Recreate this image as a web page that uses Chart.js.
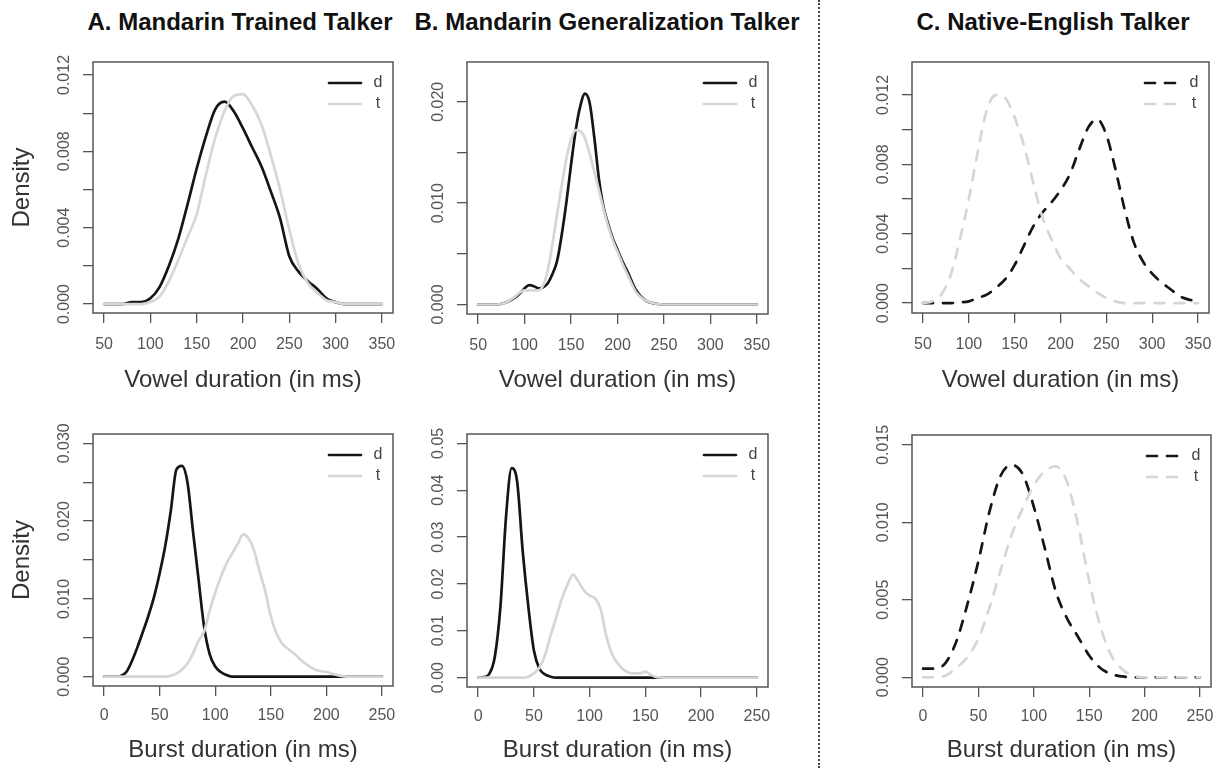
<!DOCTYPE html>
<html><head><meta charset="utf-8">
<script src="https://cdn.jsdelivr.net/npm/chart.js@4.4.0/dist/chart.umd.min.js"></script>
<style>
html,body{margin:0;padding:0;background:#fff;overflow:hidden;width:1227px;height:768px;position:relative;}
.title{position:absolute;top:8px;line-height:28px;font:bold 24px "Liberation Sans",Arial,sans-serif;color:#111;white-space:nowrap;transform:translateX(-50%);}
canvas{position:absolute;}
#sep{position:absolute;left:818px;top:0;height:768px;border-left:2px dotted #444;}
</style></head><body>
<div class="title" style="left:240px">A. Mandarin Trained Talker</div>
<div class="title" style="left:607px">B. Mandarin Generalization Talker</div>
<div class="title" style="left:1053px">C. Native-English Talker</div>
<div id="sep"></div>
<script>
// ---------- data ----------
const seriesLabels = ['d', 't'];
const vowelTicks = [50, 100, 150, 200, 250, 300, 350];
const burstTicks = [0, 50, 100, 150, 200, 250];

// A. Vowel
const xsVowelA = [50,60,70,80,90,100,110,120,130,140,150,160,170,180,190,200,210,220,230,240,250,260,270,280,290,300,310,320,330,340,350];
const dVowelA = [0,0,0,0.0001,0.0001,0.0003,0.0009,0.002,0.0034,0.0052,0.0071,0.0088,0.0102,0.0106,0.0101,0.0092,0.0082,0.0072,0.0059,0.0045,0.0025,0.0017,0.0012,0.0008,0.0003,0.0001,0,0,0,0,0];
const tVowelA = [0,0,0,0,0,0.0001,0.0004,0.0012,0.0023,0.0035,0.0047,0.0068,0.0087,0.0101,0.0109,0.011,0.0104,0.0094,0.0078,0.006,0.0039,0.0021,0.0011,0.0006,0.0002,0.0001,0,0,0,0,0];
const yTicksVowelA = [0,0.002,0.004,0.006,0.008,0.010,0.012];
const yLabelsVowelA = ['0.000','','0.004','','0.008','','0.012'];

// B. Vowel
const xsVowelB = [50,60,70,80,90,95,100,105,110,115,120,125,130,135,140,145,150,155,160,165,170,175,180,185,190,195,200,205,210,220,230,240,250,275,300,325,350];
const dVowelB = [0,0,0,0.0002,0.0007,0.0011,0.0016,0.0019,0.0018,0.0016,0.0017,0.0021,0.003,0.0043,0.0069,0.0101,0.0138,0.0172,0.0196,0.0208,0.0199,0.0165,0.0124,0.0096,0.0079,0.0065,0.0054,0.0043,0.0034,0.0014,0.0004,0.0001,0,0,0,0,0];
const tVowelB = [0,0,0,0.0002,0.0008,0.0012,0.0014,0.0014,0.0014,0.0014,0.0019,0.0034,0.006,0.0089,0.0118,0.0144,0.0163,0.0172,0.0171,0.0164,0.0149,0.0131,0.0113,0.0094,0.0077,0.0063,0.0052,0.0041,0.0031,0.0012,0.0004,0.0001,0,0,0,0,0];
const yTicksVowelB = [0,0.005,0.010,0.015,0.020];
const yLabelsVowelB = ['0.000','','0.010','','0.020'];

// C. Vowel
const xsVowelC = [50,60,70,80,90,100,110,120,130,140,150,160,170,180,190,200,210,220,230,240,250,260,270,280,290,300,310,320,330,340,350];
const dVowelC = [0,0,0,0,0.00005,0.0001,0.0003,0.0005,0.0009,0.0014,0.0022,0.0033,0.0044,0.0052,0.0058,0.0065,0.0074,0.0088,0.0101,0.0106,0.0097,0.0077,0.0054,0.0035,0.0024,0.0017,0.0012,0.0008,0.0004,0.0002,0.0001];
const tVowelC = [0,0.0001,0.0005,0.0016,0.0036,0.006,0.0088,0.0112,0.012,0.0118,0.0107,0.0091,0.007,0.005,0.0037,0.0026,0.002,0.0014,0.001,0.0006,0.0003,0.0001,0,0,0,0,0,0,0,0,0];
const yTicksVowelC = [0,0.002,0.004,0.006,0.008,0.010,0.012];
const yLabelsVowelC = ['0.000','','0.004','','0.008','','0.012'];

// A. Burst
const xsBurstA = [0,5,10,15,20,25,30,35,40,45,50,55,60,65,70,75,80,85,90,95,100,105,110,115,120,125,130,135,140,145,150,155,160,170,180,190,200,210,220,230,240,250];
const dBurstA = [0,0,0,0.0001,0.0006,0.002,0.0038,0.0058,0.0079,0.0103,0.0133,0.0168,0.0213,0.0266,0.0271,0.025,0.0187,0.0125,0.0064,0.0029,0.0013,0.0006,0.0002,0,0,0,0,0,0,0,0,0,0,0,0,0,0,0,0,0,0,0];
const tBurstA = [0,0,0,0,0,0,0,0,0,0,0,0,0.0001,0.0004,0.0009,0.0017,0.003,0.0046,0.0058,0.0085,0.0108,0.0128,0.0145,0.0158,0.017,0.0183,0.0178,0.0162,0.0135,0.011,0.0078,0.0056,0.0043,0.0031,0.0018,0.0009,0.0006,0.0002,0,0,0,0];
const yTicksBurstA = [0,0.005,0.010,0.015,0.020,0.025,0.030];
const yLabelsBurstA = ['0.000','','0.010','','0.020','','0.030'];

// B. Burst
const xsBurstB = [0,5,10,15,20,25,30,35,40,45,50,55,60,65,70,75,80,85,90,95,100,105,110,115,120,125,130,135,140,145,150,155,160,170,180,190,200,210,220,230,240,250];
const dBurstB = [0,0.0001,0.0008,0.0045,0.0152,0.0343,0.0447,0.0418,0.0269,0.0152,0.0058,0.0019,0.0007,0.0002,0,0,0,0,0,0,0,0,0,0,0,0,0,0,0,0,0,0,0,0,0,0,0,0,0,0,0,0];
const tBurstB = [0,0,0,0,0,0,0,0,0,0.0002,0.0009,0.0021,0.0048,0.009,0.0128,0.0168,0.0198,0.022,0.0205,0.0186,0.0175,0.0169,0.0145,0.0088,0.0051,0.0031,0.0018,0.0011,0.0009,0.0009,0.0013,0.0006,0.0001,0,0,0,0,0,0,0,0,0];
const yTicksBurstB = [0,0.01,0.02,0.03,0.04,0.05];
const yLabelsBurstB = ['0.00','0.01','0.02','0.03','0.04','0.05'];

// C. Burst
const xsBurstC = [0,10,20,30,40,50,60,70,80,90,100,110,120,130,140,150,160,170,180,190,200,210,220,230,240,250];
const dBurstC = [0.00055,0.00055,0.0009,0.0023,0.0047,0.0075,0.0107,0.013,0.0137,0.0131,0.011,0.0083,0.0055,0.0038,0.0026,0.0014,0.0006,0.0002,0.00005,0,0,0,0,0,0,0];
const tBurstC = [0,0,0.0001,0.0006,0.0013,0.0025,0.0045,0.0069,0.0092,0.0109,0.0124,0.0133,0.0136,0.0126,0.0098,0.0062,0.0033,0.0014,0.0005,0.0001,0,0,0,0,0,0];
const yTicksBurstC = [0,0.005,0.010,0.015];
const yLabelsBurstC = ['0.000','0.005','0.010','0.015'];

const vowelTitle = 'Vowel duration (in ms)';
const burstTitle = 'Burst duration (in ms)';
const yTitle = 'Density';

// ---------- layout / style ----------
Chart.defaults.font.family = "'Liberation Sans', Arial, sans-serif";
const FONT = "'Liberation Sans', Arial, sans-serif";
const YW = 93, PT = 14, PR = 20;

const panels = [
  {xs:xsVowelA, d:dVowelA, t:tVowelA, xTicks:vowelTicks, yTicks:yTicksVowelA, yLabels:yLabelsVowelA, xMin:38, xMax:362, yMin:-0.00047, yMax:0.01268, box:[93,62,393,313], bottomEdge:400, xPad:12.4, xTitle:vowelTitle, xTitlePad:5, yTitle:true, dash:false},
  {xs:xsVowelB, d:dVowelB, t:tVowelB, xTicks:vowelTicks, yTicks:yTicksVowelB, yLabels:yLabelsVowelB, xMin:38, xMax:362, yMin:-0.00094, yMax:0.02393, box:[467,62,768,314], bottomEdge:400, xPad:12.4, xTitle:vowelTitle, xTitlePad:5, yTitle:false, dash:false},
  {xs:xsVowelC, d:dVowelC, t:tVowelC, xTicks:vowelTicks, yTicks:yTicksVowelC, yLabels:yLabelsVowelC, xMin:38, xMax:362, yMin:-0.00057, yMax:0.0139, box:[912,62,1209,313], bottomEdge:400, xPad:12.4, xTitle:vowelTitle, xTitlePad:5, yTitle:false, dash:true},
  {xs:xsBurstA, d:dBurstA, t:tBurstA, xTicks:burstTicks, yTicks:yTicksBurstA, yLabels:yLabelsBurstA, xMin:-10, xMax:260, yMin:-0.0012, yMax:0.0312, box:[93,434,393,686], bottomEdge:768, xPad:10.1, xTitle:burstTitle, xTitlePad:3, yTitle:true, dash:false},
  {xs:xsBurstB, d:dBurstB, t:tBurstB, xTicks:burstTicks, yTicks:yTicksBurstB, yLabels:yLabelsBurstB, xMin:-10, xMax:260, yMin:-0.002, yMax:0.052, box:[467,434,768,687], bottomEdge:768, xPad:10.1, xTitle:burstTitle, xTitlePad:3, yTitle:false, dash:false},
  {xs:xsBurstC, d:dBurstC, t:tBurstC, xTicks:burstTicks, yTicks:yTicksBurstC, yLabels:yLabelsBurstC, xMin:-10, xMax:260, yMin:-0.00063, yMax:0.01563, box:[912,435,1211,687], bottomEdge:768, xPad:10.1, xTitle:burstTitle, xTitlePad:3, yTitle:false, dash:true}
];

const boxLegend = {
  id: 'boxLegend',
  afterDatasetsDraw(chart) {
    const {ctx, chartArea: {left, top, right, bottom}} = chart;
    ctx.save();
    ctx.setLineDash([]);
    ctx.strokeStyle = '#555';
    ctx.lineWidth = 1.5;
    ctx.strokeRect(left, top, right - left, bottom - top);
    chart.data.datasets.forEach((ds, i) => {
      const y = top + 21 + i * 21;
      ctx.beginPath();
      ctx.setLineDash(ds.borderDash || []);
      ctx.lineCap = 'round';
      ctx.strokeStyle = ds.borderColor;
      ctx.lineWidth = ds.borderWidth;
      ctx.moveTo(right - 64, y);
      ctx.lineTo(right - 32, y);
      ctx.stroke();
      ctx.setLineDash([]);
      ctx.fillStyle = '#444';
      ctx.font = '16px ' + FONT;
      ctx.textAlign = 'center';
      ctx.textBaseline = 'middle';
      ctx.fillText(ds.label, right - 15, y);
    });
    ctx.restore();
  }
};

function makePanel(p) {
  const cv = document.createElement('canvas');
  const x0 = p.box[0] - YW, y0 = p.box[1] - PT, x1 = p.box[2] + PR, y1 = p.bottomEdge;
  cv.width = x1 - x0; cv.height = y1 - y0;
  cv.style.left = x0 + 'px'; cv.style.top = y0 + 'px';
  cv.style.width = (x1 - x0) + 'px'; cv.style.height = (y1 - y0) + 'px';
  document.body.appendChild(cv);
  const XH = y1 - p.box[3];
  const m = cv.getContext('2d');
  m.font = '16px ' + FONT;
  const widest = Math.max(...p.yLabels.map(s => m.measureText(s).width));
  const ypad = 28 - 10 - widest / 2;
  const dashPat = p.dash ? [10, 10] : [];
  const gridOpts = {drawOnChartArea: false, drawTicks: true, tickLength: 10, color: '#555', lineWidth: 1.3};
  new Chart(cv, {
    type: 'line',
    data: {
      datasets: [
        {label: seriesLabels[0], data: p.xs.map((x, i) => ({x: x, y: p.d[i]})), borderColor: '#151515', borderWidth: 2.7, borderDash: dashPat, order: 1},
        {label: seriesLabels[1], data: p.xs.map((x, i) => ({x: x, y: p.t[i]})), borderColor: '#d6d6d6', borderWidth: 2.7, borderDash: dashPat, order: 0}
      ]
    },
    options: {
      responsive: false, animation: false, devicePixelRatio: 1,
      layout: {padding: {left: 0, top: PT, right: PR, bottom: 0}},
      plugins: {legend: {display: false}, tooltip: {enabled: false}, title: {display: false}},
      elements: {point: {radius: 0}, line: {cubicInterpolationMode: 'monotone', borderCapStyle: 'round', borderJoinStyle: 'round', fill: false}},
      scales: {
        x: {
          type: 'linear', min: p.xMin, max: p.xMax,
          afterBuildTicks: s => { s.ticks = p.xTicks.map(v => ({value: v})); },
          afterFit: s => { s.height = XH; },
          ticks: {padding: p.xPad, color: '#555', font: {size: 16}, autoSkip: false, maxRotation: 0, callback: v => String(v)},
          grid: gridOpts,
          border: {display: false},
          title: {display: true, text: p.xTitle, color: '#333', font: {size: 24}, padding: {top: 0, bottom: p.xTitlePad}}
        },
        y: {
          type: 'linear', min: p.yMin, max: p.yMax,
          afterBuildTicks: s => { s.ticks = p.yTicks.map(v => ({value: v})); },
          afterFit: s => { s.width = YW; },
          ticks: {padding: ypad, crossAlign: 'center', minRotation: 90, maxRotation: 90, autoSkip: false, color: '#555', font: {size: 16}, callback: (v, i) => p.yLabels[i]},
          grid: gridOpts,
          border: {display: false},
          title: {display: p.yTitle, text: yTitle, color: '#333', font: {size: 24}, padding: {top: 7.6, bottom: 0}}
        }
      }
    },
    plugins: [boxLegend]
  });
}
panels.forEach(makePanel);
</script>
</body></html>
